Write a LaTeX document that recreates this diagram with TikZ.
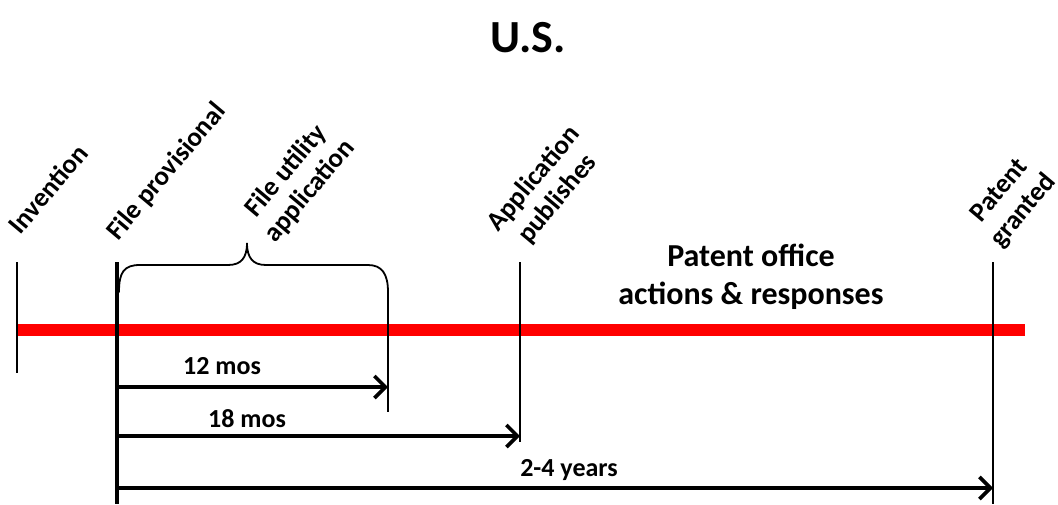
\documentclass[tikz,border=0pt]{standalone}
\usepackage{fontspec}
\setmainfont{Carlito}
\usetikzlibrary{arrows.meta}
\begin{document}
\begin{tikzpicture}[x=1pt,y=-1pt,
  tick/.style={line width=1.8pt,black},
  mainline/.style={line width=4pt,black},
  span/.style={line width=3.6pt,-{Straight Barb[length=11pt,width=22pt,line width=3.6pt]}},
  milestone/.style={rotate=50,align=center,inner sep=0pt,font=\fontsize{27}{31}\selectfont\bfseries},
  duration/.style={inner sep=0pt,font=\fontsize{26}{30}\selectfont\bfseries},
]
\useasboundingbox (0,0) rectangle (1058,504);

% title
\node[font=\fontsize{46}{50}\selectfont\bfseries] (title) at (528,38) {U.S.};

% timeline points
\coordinate (inv-top) at (17,262);
\coordinate (inv-bot) at (17,373);
\coordinate (prov-top) at (117,262);
\coordinate (prov-bot) at (117,504);
\coordinate (util-top) at (388,292);
\coordinate (util-bot) at (388,412);
\coordinate (pub-top) at (520,262);
\coordinate (pub-bot) at (520,442);
\coordinate (grant-top) at (993,262);
\coordinate (grant-bot) at (993,504);
\coordinate (line-start) at (17,330);
\coordinate (line-end) at (1025,330);

% red timeline
\draw[red,line width=12pt] (line-start) -- (line-end);

% milestone ticks
\draw[tick] (inv-top) -- (inv-bot);
\draw[mainline] (prov-top) -- (prov-bot);
\draw[tick] (util-top) -- (util-bot);
\draw[tick] (pub-top) -- (pub-bot);
\draw[tick] (grant-top) -- (grant-bot);

% brace over the first 12 months
\draw[tick,line cap=round] (119,292) .. controls (119,272) and (124,265) .. (140,265)
  -- (228,265) .. controls (241,265) and (247,258) .. (247,243)
  .. controls (247,258) and (253,265) .. (266,265)
  -- (368,265) .. controls (382,265) and (388,274) .. (util-top);

% milestone labels
\node[milestone] (l-inv) at (48,189) {Invention};
\node[milestone] (l-prov) at (167,172) {File provisional};
\node[milestone] (l-util) at (298,181) {File utility\\application};
\node[milestone] (l-pub) at (546,189) {Application\\publishes};
\node[milestone] (l-grant) at (1012,201) {Patent\\granted};

% patent office phase
\node[align=center,font=\fontsize{32}{38}\selectfont\bfseries] (office) at (751,277)
  {Patent office\\actions \& responses};

% durations
\coordinate (a12-start) at (117,387);
\coordinate (a12-end) at (388,387);
\coordinate (a18-start) at (117,436);
\coordinate (a18-end) at (520,436);
\coordinate (a24-start) at (117,488);
\coordinate (a24-end) at (993,488);
\draw[span] (a12-start) -- (a12-end);
\draw[span] (a18-start) -- (a18-end);
\draw[span] (a24-start) -- (a24-end);
\node[duration] (d12) at (222,366) {12 mos};
\node[duration] (d18) at (247,419) {18 mos};
\node[duration] (d24) at (569,470) {2-4 years};
\end{tikzpicture}
\end{document}
